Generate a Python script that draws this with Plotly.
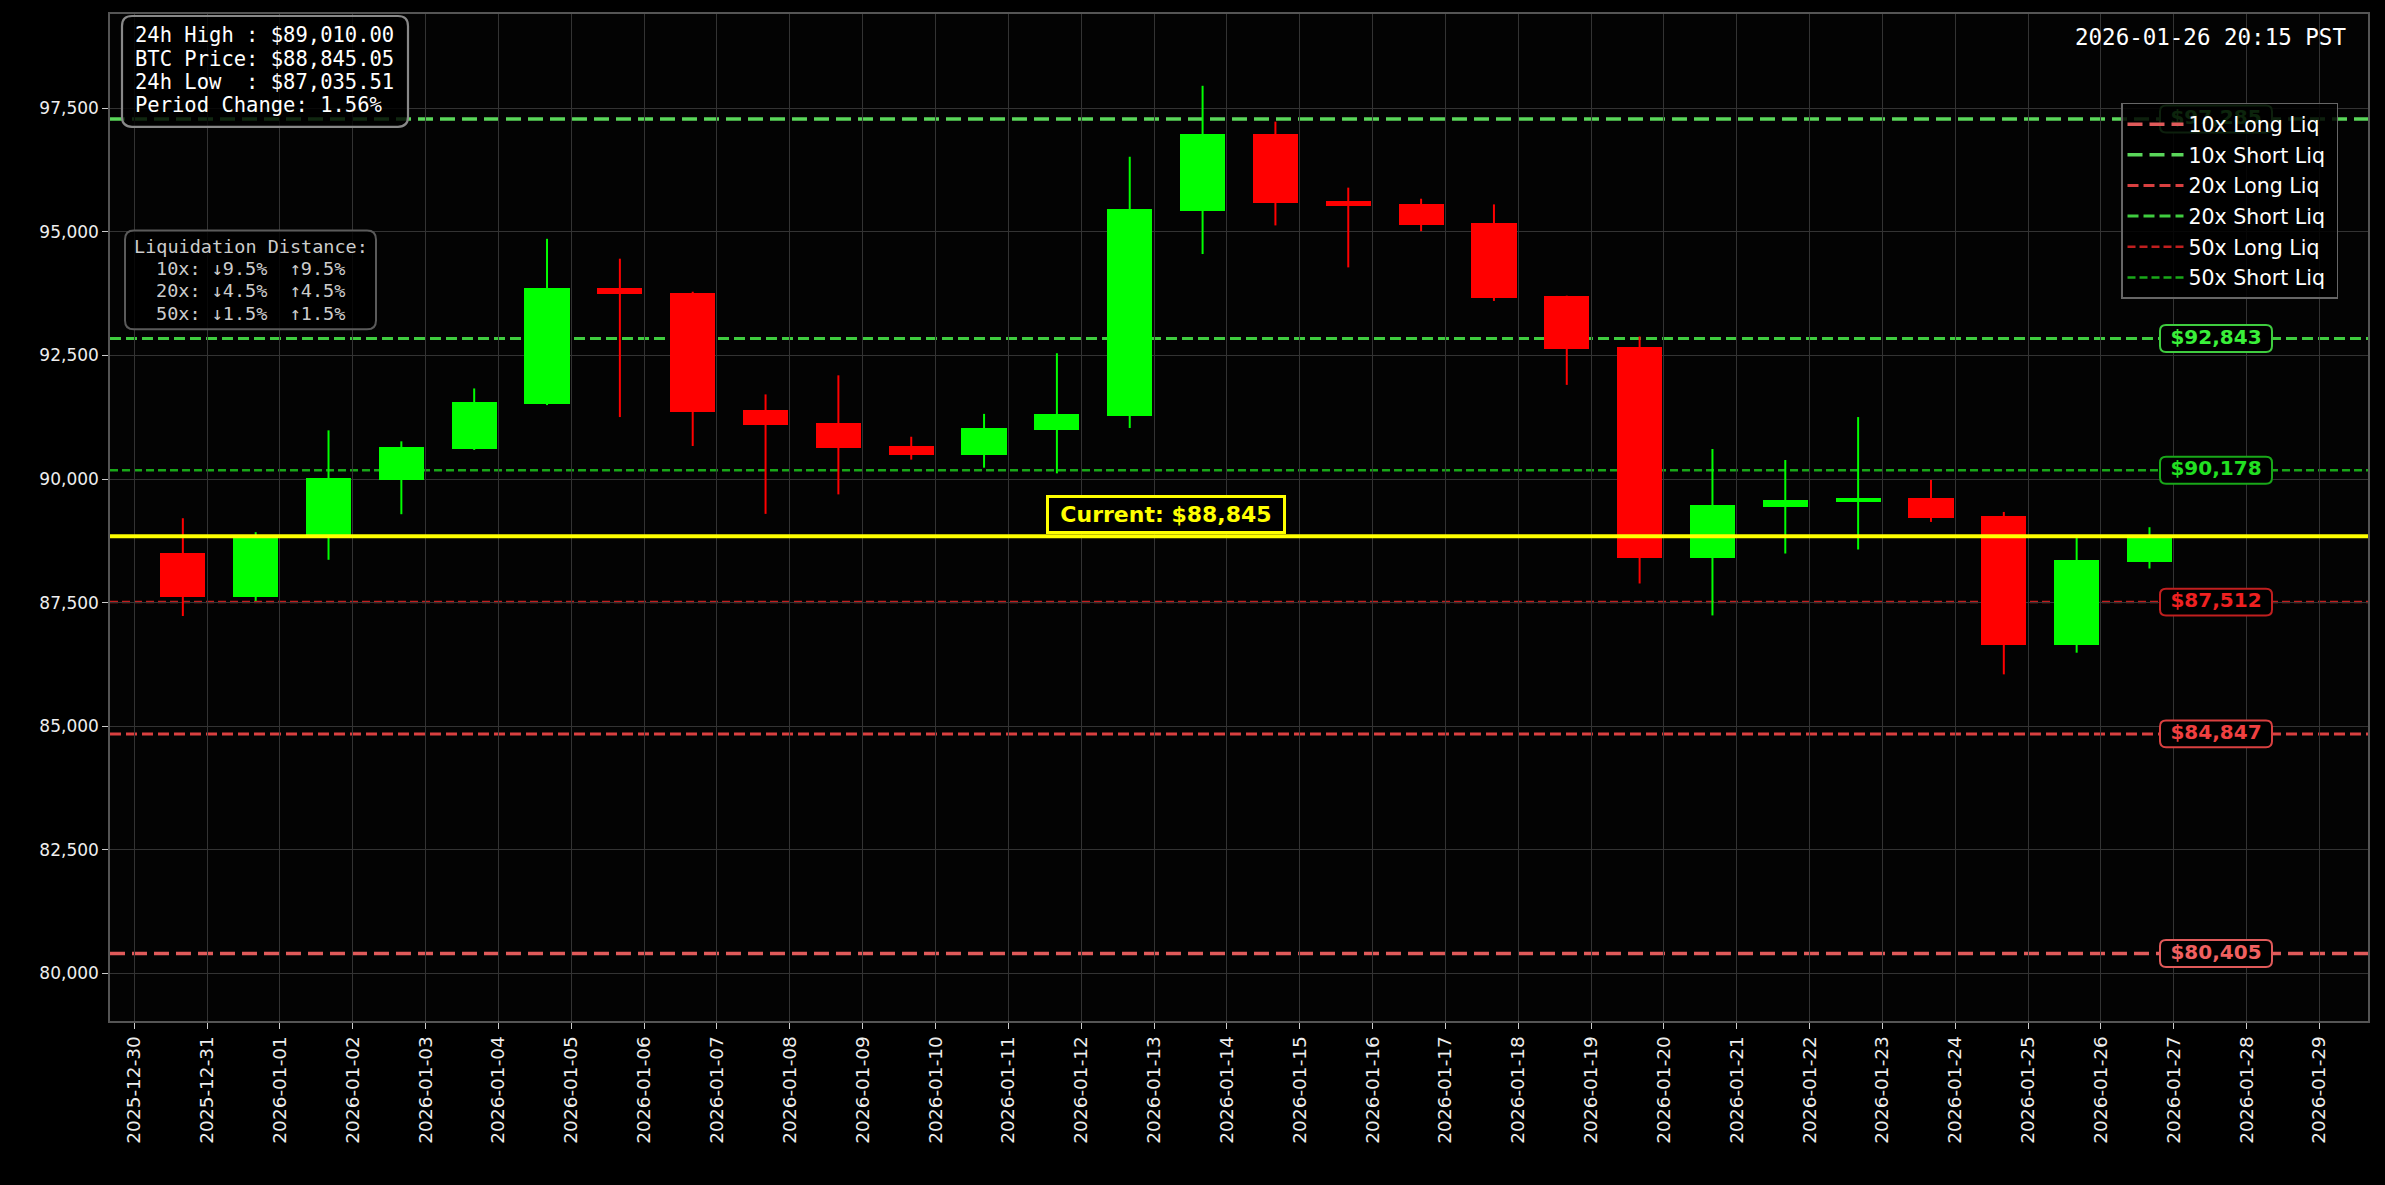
import plotly.graph_objects as go
import pandas as pd

# ---------------- data ----------------
dates = [
    "2025-12-30 16:00", "2025-12-31 16:00", "2026-01-01 16:00", "2026-01-02 16:00",
    "2026-01-03 16:00", "2026-01-04 16:00", "2026-01-05 16:00", "2026-01-06 16:00",
    "2026-01-07 16:00", "2026-01-08 16:00", "2026-01-09 16:00", "2026-01-10 16:00",
    "2026-01-11 16:00", "2026-01-12 16:00", "2026-01-13 16:00", "2026-01-14 16:00",
    "2026-01-15 16:00", "2026-01-16 16:00", "2026-01-17 16:00", "2026-01-18 16:00",
    "2026-01-19 16:00", "2026-01-20 16:00", "2026-01-21 16:00", "2026-01-22 16:00",
    "2026-01-23 16:00", "2026-01-24 16:00", "2026-01-25 16:00", "2026-01-26 16:00",
]
opens = [88503, 87614, 88832, 89976, 90602, 91517, 93873, 93772, 91390, 91134,
         90671, 90494, 90995, 91281, 95417, 96983, 95633, 95571, 95170, 93696,
         92669, 88414, 89444, 89545, 89619, 89256, 86650, 88333]
highs = [89209, 88927, 90986, 90764, 91834, 94860, 94458, 93790, 91713, 92099,
         90857, 91319, 92546, 96520, 97955, 97230, 95895, 95671, 95556, 93710,
         92885, 90609, 90387, 91255, 89983, 89336, 88811, 89027]
lows = [87231, 87534, 88368, 89290, 90590, 91497, 91255, 90670, 89297, 89691,
        90394, 90231, 90116, 91034, 94552, 95131, 94282, 95015, 93603, 91906,
        87889, 87243, 88495, 88576, 89134, 86051, 86489, 88192]
closes = [87614, 88832, 90017, 90643, 91551, 93873, 93738, 91356, 91094, 90633,
          90494, 91034, 91319, 95455, 96983, 95594, 95532, 95131, 93657, 92631,
          88414, 89478, 89579, 89619, 89222, 86650, 88367, 88845]

current_price = 88845.05

liq_names = ["10x Long Liq", "10x Short Liq", "20x Long Liq",
             "20x Short Liq", "50x Long Liq", "50x Short Liq"]
liq_levels = [80405, 97285, 84847, 92843, 87512, 90178]
liq_colors = ["#e05a5a", "#5ad65a", "#d94040", "#3fcc3f", "#c01f1f", "#19a819"]
liq_label_colors = ["#f06060", "#55f055", "#f04040", "#3af03a", "#ee2020", "#22e022"]

info_lines = ["24h High : $89,010.00", "BTC Price: $88,845.05",
              "24h Low  : $87,035.51", "Period Change: 1.56%"]
dist_lines = ["Liquidation Distance:", "10x: ↓9.5%  ↑9.5%",
              "20x: ↓4.5%  ↑4.5%", "50x: ↓1.5%  ↑1.5%"]
timestamp_text = "2026-01-26 20:15 PST"
x_range = ["2025-12-29 16:00", "2026-01-29 16:00"]
y_range = [79040, 99407]
label_x = "2026-01-27 13:55"

# ---------------- layout helpers ----------------
W, H = 2385, 1185
ML, MR, MT, MB = 110, 17, 12, 164
PW, PH = W - ML - MR, H - MT - MB


def px(x):
    return (x - ML) / PW


def py(y):
    return 1 - (y - MT) / PH


def rrect_path(x0, y0, x1, y1, rx, ry):
    """Rounded rectangle; (x0,y0) bottom-left, (x1,y1) top-right."""
    p = [("M", [(x0 + rx, y0)]), ("L", [(x1 - rx, y0)]),
         ("Q", [(x1, y0), (x1, y0 + ry)]), ("L", [(x1, y1 - ry)]),
         ("Q", [(x1, y1), (x1 - rx, y1)]), ("L", [(x0 + rx, y1)]),
         ("Q", [(x0, y1), (x0, y1 - ry)]), ("L", [(x0, y0 + ry)]),
         ("Q", [(x0, y0), (x0 + rx, y0)])]
    return " ".join(c + " " + " ".join(f"{a:.6f},{b:.6f}" for a, b in pts) for c, pts in p) + " Z"


def paper_box(l, t, r, b, rad):
    return rrect_path(px(l), py(b), px(r), py(t), rad / PW, rad / PH)


GREEN, RED = "#00ff00", "#ff0000"
up = [c >= o for o, c in zip(opens, closes)]

fig = go.Figure()

# candle bodies
fig.add_trace(go.Bar(
    x=dates,
    base=[min(o, c) for o, c in zip(opens, closes)],
    y=[abs(c - o) for o, c in zip(opens, closes)],
    width=0.62 * 86400000,
    marker=dict(color=[GREEN if u else RED for u in up], line=dict(width=0)),
    showlegend=False, hoverinfo="skip",
))

# wicks
for flag, col in [(True, GREEN), (False, RED)]:
    xs, ys = [], []
    for d, h, l, u in zip(dates, highs, lows, up):
        if u == flag:
            xs += [d, d, None]
            ys += [l, h, None]
    fig.add_trace(go.Scatter(x=xs, y=ys, mode="lines",
                             line=dict(color=col, width=2),
                             showlegend=False, hoverinfo="skip"))

# liquidation legend entries + lines
liq_widths = [3.5, 3.5, 3.0, 3.0, 2.5, 2.5]
liq_dash = ["15px,7px", "15px,7px", "11px,5px", "11px,5px", "8px,4px", "8px,4px"]
shapes = []
for name, lvl, col, w, d in zip(liq_names, liq_levels, liq_colors, liq_widths, liq_dash):
    fig.add_trace(go.Scatter(x=[None], y=[None], mode="lines", name=name + "\u00a0",
                             legendgroup=name,
                             line=dict(color=col, width=w, dash=d)))
    shapes.append(dict(type="line", xref="paper", yref="y", x0=0, x1=1,
                       y0=lvl, y1=lvl, layer="between",
                       line=dict(color=col, width=w, dash=d)))

# level label boxes (data space, drawn under the legend)
x0_ms = pd.Timestamp(x_range[0]).value / 1e6
x1_ms = pd.Timestamp(x_range[1]).value / 1e6
ms_per_px = (x1_ms - x0_ms) / PW
val_per_px = (y_range[1] - y_range[0]) / PH
lx_ms = pd.Timestamp(label_x).value / 1e6
bw, bh, br = 112, 27, 6
for lvl, col in zip(liq_levels, liq_colors):
    shapes.append(dict(type="path", xref="x", yref="y", layer="between",
                       path=rrect_path(lx_ms - bw / 2 * ms_per_px, lvl - bh / 2 * val_per_px,
                                       lx_ms + bw / 2 * ms_per_px, lvl + bh / 2 * val_per_px,
                                       br * ms_per_px, br * val_per_px),
                       fillcolor="#000000", line=dict(color=col, width=2)))
fig.add_trace(go.Scatter(
    x=[label_x] * len(liq_levels), y=liq_levels, mode="text",
    text=[f"${v:,}" for v in liq_levels], textposition="middle center",
    textfont=dict(family="DejaVu Sans", size=20, color=liq_label_colors, weight="bold"),
    showlegend=False, hoverinfo="skip"))

# current price line
shapes.append(dict(type="line", xref="paper", yref="y", x0=0, x1=1,
                   y0=current_price, y1=current_price, layer="above",
                   line=dict(color="#ffff00", width=4)))

# info boxes
shapes.append(dict(type="path", xref="paper", yref="paper", layer="above",
                   path=paper_box(122, 14, 408, 125, 10),
                   fillcolor="rgba(0,0,0,0.82)", line=dict(color="#888888", width=2.2)))
shapes.append(dict(type="path", xref="paper", yref="paper", layer="above",
                   path=paper_box(125, 229, 376, 328, 9),
                   fillcolor="rgba(0,0,0,0.82)", line=dict(color="#5a5a5a", width=2)))

annotations = []
for i, t in enumerate(info_lines):
    annotations.append(dict(xref="paper", yref="paper", x=px(133), y=py(33.5 + 23.3 * i),
                            xanchor="left", yanchor="middle", showarrow=False,
                            text=t.replace(" ", "\u00a0"),
                            font=dict(family="DejaVu Sans Mono", size=20.5, color="#ffffff")))
for i, t in enumerate(dist_lines):
    annotations.append(dict(xref="paper", yref="paper", x=px(250.5), y=py(245 + 22.2 * i),
                            xanchor="center", yanchor="middle", showarrow=False,
                            text=t.replace(" ", "\u00a0"),
                            font=dict(family="DejaVu Sans Mono", size=18.5, color="#cccccc")))
annotations.append(dict(xref="paper", yref="paper", x=px(2348), y=py(35),
                        xanchor="right", yanchor="middle", showarrow=False,
                        text=timestamp_text.replace(" ", "\u00a0"),
                        font=dict(family="DejaVu Sans Mono", size=22.5, color="#ffffff")))

# current price label
t0 = pd.to_datetime(dates[0])
t1 = pd.to_datetime(dates[-1])
mid = t0 + (t1 - t0) / 2
annotations.append(dict(xref="x", yref="y", x=mid, y=current_price,
                        xanchor="center", yanchor="bottom", yshift=2, showarrow=False,
                        text=f"Current: ${current_price:,.0f}", width=226,
                        font=dict(family="DejaVu Sans", size=22, color="#ffff00", weight="bold"),
                        bgcolor="#000000", bordercolor="#ffff00", borderwidth=3, borderpad=4))

axis_common = dict(
    showgrid=True, gridcolor="#333333", gridwidth=1,
    showline=True, mirror=True, linecolor="#555555", linewidth=1.5,
    ticks="outside", ticklen=6, tickcolor="#cccccc", tickwidth=1,
    zeroline=False,
)

fig.update_layout(
    width=W, height=H,
    margin=dict(l=ML, r=MR, t=MT, b=MB, pad=0),
    paper_bgcolor="#000000", plot_bgcolor="#030303",
    xaxis=dict(type="date", range=x_range, tick0="2025-12-30", dtick=86400000,
               tickformat="%Y-%m-%d", tickangle=-90,
               tickfont=dict(family="DejaVu Sans", size=18.5, color="#eeeeee"),
               **axis_common),
    yaxis=dict(range=y_range, dtick=2500, tick0=0, tickformat=",",
               tickfont=dict(family="DejaVu Sans", size=17, color="#eeeeee"),
               **axis_common),
    shapes=shapes, annotations=annotations,
    showlegend=True,
    legend=dict(x=px(2338), y=py(101), xanchor="right", yanchor="top",
                bgcolor="rgba(0,0,0,0.85)", bordercolor="#666666", borderwidth=1.5,
                font=dict(family="DejaVu Sans", size=20.5, color="#ffffff"),
                tracegroupgap=1, itemwidth=56),
    bargap=0,
)

fig.write_html(
    "out.html",
    config={"displayModeBar": False},
    post_script="document.body.style.margin='0';document.body.style.background='#000';",
)
